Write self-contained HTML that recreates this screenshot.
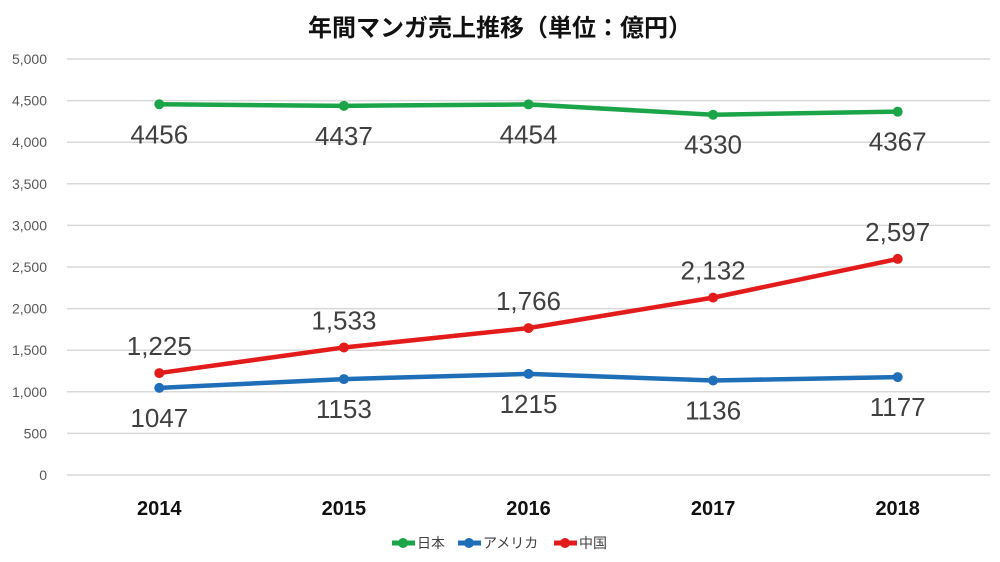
<!DOCTYPE html>
<html><head><meta charset="utf-8"><style>
body{margin:0;background:#fff;}
svg{display:block;font-family:"Liberation Sans","Noto Sans CJK JP",sans-serif;}
</style></head><body>
<svg id="chart" width="1000" height="562" viewBox="0 0 1000 562">
<rect width="1000" height="562" fill="#fff"/>
<text x="500" y="36" text-anchor="middle" font-size="24" font-weight="bold" fill="#111">年間マンガ売上推移（単位：億円）</text>
<g id="grid"></g><g id="series"></g>
<g>
 <g><line x1="392" y1="543" x2="415" y2="543" stroke="#1ca548" stroke-width="5"/><circle cx="403" cy="543" r="5" fill="#1ca548"/><text x="417" y="548" font-size="14" fill="#404040">日本</text></g>
 <g><line x1="458" y1="543" x2="481" y2="543" stroke="#1f6fb8" stroke-width="5"/><circle cx="469" cy="543" r="5" fill="#1f6fb8"/><text x="483" y="548" font-size="14" fill="#404040">アメリカ</text></g>
 <g><line x1="554" y1="543" x2="577" y2="543" stroke="#e31b1b" stroke-width="5"/><circle cx="565" cy="543" r="5" fill="#e31b1b"/><text x="579" y="548" font-size="14" fill="#404040">中国</text></g>
</g>
</svg>
<script>
const categories=["2014","2015","2016","2017","2018"];
const yTicks=[0,500,1000,1500,2000,2500,3000,3500,4000,4500,5000];
const japan=[4456,4437,4454,4330,4367];
const usa=[1047,1153,1215,1136,1177];
const china=[1225,1533,1766,2132,2597];
const NS="http://www.w3.org/2000/svg";
const L=67,R=990,T=59,B=475,maxY=5000;
const x=i=>L+(R-L)/categories.length*(i+0.5);
const y=v=>B-(B-T)*v/maxY;
function mk(tag,attrs,parent,txt){const e=document.createElementNS(NS,tag);for(const k in attrs)e.setAttribute(k,attrs[k]);if(txt!==undefined)e.textContent=txt;parent.appendChild(e);return e;}
const grid=document.getElementById('grid');
yTicks.forEach(t=>{
 const l=mk('line',{x1:L,x2:R,y1:y(t),y2:y(t),stroke:'#d9d9d9','stroke-width':1.5},grid);
 
 
 const tx=mk('text',{x:47,y:y(t)+5,'text-anchor':'end','font-size':14,fill:'#595959'},grid,t.toLocaleString('en-US'));
 
 
});
categories.forEach((c,i)=>{
 const tx=mk('text',{x:x(i),y:515,'text-anchor':'middle','font-size':20,'font-weight':'bold',fill:'#111'},grid,c);
 
 
});
const ser=document.getElementById('series');
function draw(name,data,color,off,fmt){
 const g=mk('g',{},ser);
 
 
 const p=mk('polyline',{points:data.map((v,i)=>x(i)+','+y(v)).join(' '),fill:'none',stroke:color,'stroke-width':4.5,'stroke-linejoin':'round'},g);
 
 
 data.forEach((v,i)=>{
  const c=mk('circle',{cx:x(i),cy:y(v),r:5,fill:color},g);
  
  
  const t=mk('text',{x:x(i),y:y(v)+off,'text-anchor':'middle','font-size':26,fill:'#404040'},g,fmt?v.toLocaleString('en-US'):String(v));
  
  
 });
}
draw('japan',japan,'#1ca548',39,false);
draw('usa',usa,'#1f6fb8',39,false);
draw('china',china,'#e31b1b',-18,true);
</script>
</body></html>
